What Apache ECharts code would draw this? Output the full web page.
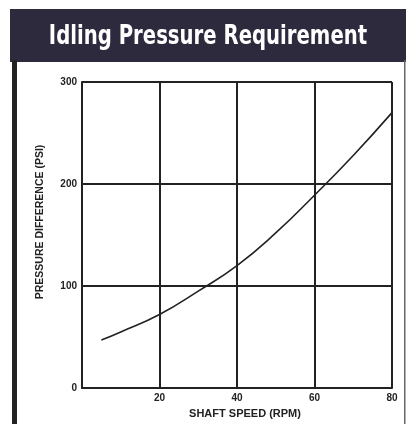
<!DOCTYPE html>
<html>
<head>
<meta charset="utf-8">
<script src="https://cdn.jsdelivr.net/npm/echarts@6/dist/echarts.min.js"></script>
<style>
  html, body { margin: 0; padding: 0; background: #fff; }
  #chart { width: 410px; height: 424px; }
</style>
</head>
<body>
<div id="chart"></div>
<script>
// shaft speed (rpm) vs pressure difference (psi)
var speed = [5, 10, 20, 30, 40, 50, 60, 70, 80]
var pressure = [47, 55, 72, 95, 120, 152, 189, 228, 270]
var xTicks = [20, 40, 60, 80]

var chart = echarts.init(document.getElementById('chart'))
var labelFont = 'Liberation Sans, Arial, sans-serif'

chart.setOption({
  backgroundColor: '#fff',
  animation: false,
  graphic: [
    // header bar
    { type: 'rect', shape: { x: 10, y: 9, width: 396, height: 53 }, style: { fill: '#2d2a3e' }, z: 0 },
    {
      type: 'text', x: 208, y: 37, scaleX: 0.81,
      style: {
        text: 'Idling Pressure Requirement', fill: '#fff',
        font: 'bold 27px "Liberation Sans Narrow", "DejaVu Sans Condensed", sans-serif',
        align: 'center', verticalAlign: 'middle'
      },
      z: 1
    },
    // frame sides
    { type: 'rect', shape: { x: 12, y: 60, width: 5, height: 364 }, style: { fill: '#222' } },
    { type: 'rect', shape: { x: 404, y: 60, width: 1.5, height: 364 }, style: { fill: '#666' } },
    {
      type: 'text', x: 40, y: 222, rotation: Math.PI / 2,
      style: {
        text: 'PRESSURE DIFFERENCE (PSI)', fill: '#222',
        font: 'bold 10.5px ' + labelFont, align: 'center', verticalAlign: 'middle'
      }
    }
  ],
  grid: { left: 82, right: 18, top: 82, bottom: 36 },
  xAxis: {
    type: 'value',
    min: 0,
    max: 80,
    interval: 20,
    axisLine: { show: true, lineStyle: { color: '#222', width: 2 } },
    axisTick: { show: false },
    splitLine: { show: true, lineStyle: { color: '#222', width: 2 } },
    axisLabel: {
      color: '#222', fontSize: 10, fontWeight: 'bold', fontFamily: labelFont, margin: 5,
      formatter: function (v) { return xTicks.indexOf(v) >= 0 ? String(v) : '' }
    },
    name: 'SHAFT SPEED (RPM)',
    nameLocation: 'middle',
    nameGap: 20,
    nameTextStyle: { color: '#222', fontSize: 11, fontWeight: 'bold', fontFamily: labelFont, padding: [0, 0, 0, 16] }
  },
  yAxis: {
    type: 'value',
    min: 0,
    max: 300,
    interval: 100,
    axisLine: { show: true, lineStyle: { color: '#222', width: 2 } },
    axisTick: { show: false },
    splitLine: { show: true, lineStyle: { color: '#222', width: 2 } },
    axisLabel: { color: '#222', fontSize: 10, fontWeight: 'bold', fontFamily: labelFont, margin: 5 }
  },
  series: [
    {
      type: 'line',
      data: speed.map(function (s, i) { return [s, pressure[i]] }),
      smooth: true,
      showSymbol: false,
      lineStyle: { color: '#222', width: 1.6 }
    }
  ]
})
</script>
</body>
</html>
